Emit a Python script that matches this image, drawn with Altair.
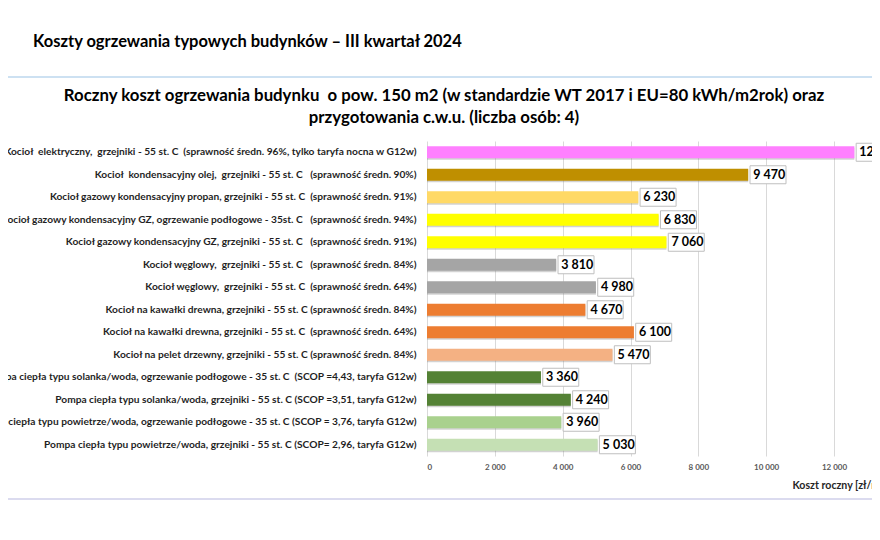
import altair as alt
import pandas as pd

# dane
rodzaje = [
    "Kocioł  elektryczny,  grzejniki - 55 st. C  (sprawność średn. 96%, tylko taryfa nocna w G12w)",
    "Kocioł  kondensacyjny olej,  grzejniki - 55 st. C   (sprawność średn. 90%)",
    "Kocioł gazowy kondensacyjny propan, grzejniki - 55 st. C  (sprawność średn. 91%)",
    "Kocioł gazowy kondensacyjny GZ, ogrzewanie podłogowe - 35st. C   (sprawność średn. 94%)",
    "Kocioł gazowy kondensacyjny GZ, grzejniki - 55 st. C   (sprawność średn. 91%)",
    "Kocioł węglowy,  grzejniki - 55 st. C   (sprawność średn. 84%)",
    "Kocioł węglowy,  grzejniki - 55 st. C  (sprawność średn. 64%)",
    "Kocioł na kawałki drewna, grzejniki - 55 st. C (sprawność średn. 84%)",
    "Kocioł na kawałki drewna, grzejniki - 55 st. C  (sprawność średn. 64%)",
    "Kocioł na pelet drzewny, grzejniki - 55 st. C (sprawność średn. 84%)",
    "Pompa ciepła typu solanka/woda, ogrzewanie podłogowe - 35 st. C  (SCOP =4,43, taryfa G12w)",
    "Pompa ciepła typu solanka/woda, grzejniki - 55 st. C (SCOP =3,51, taryfa G12w)",
    "Pompa ciepła typu powietrze/woda, ogrzewanie podłogowe - 35 st. C (SCOP = 3,76, taryfa G12w)",
    "Pompa ciepła typu powietrze/woda, grzejniki - 55 st. C (SCOP= 2,96, taryfa G12w)",
]
koszt = [12600, 9470, 6230, 6830, 7060, 3810, 4980, 4670, 6100, 5470, 3360, 4240, 3960, 5030]
kolory = ["#FF80FF", "#BF8F00", "#FFD966", "#FFFF00", "#FFFF00", "#A5A5A5", "#A5A5A5",
          "#ED7D31", "#ED7D31", "#F4B183", "#548235", "#548235", "#A9D18E", "#C5E0B4"]
ticki = [0, 2000, 4000, 6000, 8000, 10000, 12000]

tytul_strony = "Koszty ogrzewania typowych budynków – III kwartał 2024"
tytul_wykresu = ["Roczny koszt ogrzewania budynku  o pow. 150 m2 (w standardzie WT 2017 i EU=80 kWh/m2rok) oraz",
                 "przygotowania c.w.u. (liczba osób: 4)"]

# podwojne spacje jako twarde, zeby SVG ich nie zwijal
def twarde(s):
    return s.replace("  ", " \u00a0")

osie = [twarde(r) for r in rodzaje]
df = pd.DataFrame({"rodzaj": osie, "koszt": koszt})
df["etykieta"] = df["koszt"].map(lambda v: f"{v:,}".replace(",", " "))

FONT = "Lato"
W, H = 445, 315

x = alt.X("koszt:Q", scale=alt.Scale(domain=[0, 13120], nice=False),
          axis=alt.Axis(values=ticki, labelExpr="replace(format(datum.value, ','), ',', ' ')",
                        grid=True, gridColor="#D9D9D9", domain=False, ticks=False,
                        labelFont=FONT, labelFontSize=8, labelFontWeight="bold", labelColor="#595959",
                        labelPadding=7, title="Koszt roczny [zł/rok]", titleFont=FONT, titleFontSize=10.6,
                        titleFontWeight="bold", titleColor="#262626", titleX=365, titleY=29,
                        titleAlign="left", titleBaseline="middle"))
y = alt.Y("rodzaj:N", sort=osie, title=None,
          scale=alt.Scale(paddingInner=0.46, paddingOuter=0.23),
          axis=alt.Axis(labelLimit=0, labelPadding=11, labelFont=FONT, labelFontSize=10.2,
                        labelFontWeight="bold", labelColor="#1F1F1F", ticks=False, domain=False))

baza = alt.Chart(df).encode(x=x, y=y)

cien = baza.mark_bar(color="#7F7F7F", opacity=0.35, yOffset=1.5)
slupki = baza.mark_bar().encode(color=alt.Color("rodzaj:N", scale=alt.Scale(domain=osie, range=kolory), legend=None))
ramki = baza.mark_point(shape="M0.1,-0.5H2.1V0.5H0.1Z", size=1296, fill="white", stroke="#BFBFBF",
                        strokeWidth=1, opacity=1)
etykiety = baza.mark_text(align="left", baseline="middle", dx=5, font=FONT, fontSize=12.5,
                          fontWeight="bold", color="black").encode(text="etykieta:N")

jeden = pd.DataFrame({"a": [0]})
naglowek = alt.Chart(jeden).mark_text(align="left", baseline="middle", font=FONT, fontSize=16.5,
                                      fontWeight="bold", color="black").encode(
    x=alt.value(-394), y=alt.value(-99), text=alt.value(tytul_strony))
tytul = alt.Chart(jeden).mark_text(align="center", baseline="middle", font=FONT, fontSize=16.8,
                                   fontWeight="bold", color="black", lineHeight=22).encode(
    x=alt.value(17), y=alt.value(-45), text=alt.value([twarde(t) for t in tytul_wykresu]))
linia_gora = alt.Chart(jeden).mark_rule(color="#BDD7EE", strokeWidth=1.5).encode(
    x=alt.value(-419), x2=alt.value(W), y=alt.value(-64))
linia_dol = alt.Chart(jeden).mark_rule(color="#CFCFEA", strokeWidth=1.5).encode(
    x=alt.value(-419), x2=alt.value(W), y=alt.value(358))

chart = alt.layer(linia_gora, linia_dol, naglowek, tytul, cien, slupki, ramki, etykiety).properties(
    width=W, height=H,
    padding={"left": 419, "top": 133, "right": 0, "bottom": 76},
    autosize=alt.AutoSizeParams(type="none"),
    background="white",
).configure_view(stroke=None)

chart.save("out.html", embed_options={"renderer": "svg", "actions": False})
